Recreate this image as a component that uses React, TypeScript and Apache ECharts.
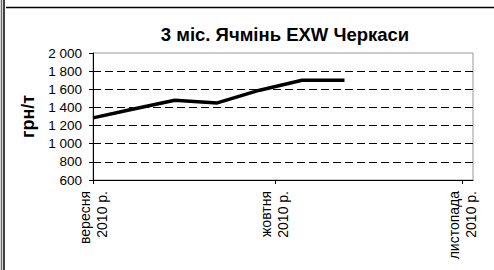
import React, { useEffect, useRef } from "react";
import * as echarts from "echarts";

const titleText = "3 міс. Ячмінь EXW Черкаси";
const yAxisName = "грн/т";
const pointDates = [
  "2010-09-01 00:00",
  "2010-09-07 12:00",
  "2010-09-14 12:00",
  "2010-09-21 12:00",
  "2010-09-28 12:00",
  "2010-10-05 12:00",
  "2010-10-12 12:00",
];
const pointValues = [1285, 1380, 1480, 1450, 1590, 1700, 1700];
const monthTickDates = ["2010-09-01 00:00", "2010-10-01 00:00", "2010-11-01 00:00"];
const monthTickLabels = ["вересня\n2010 р.", "жовтня\n2010 р.", "листопада\n2010 р."];
const xMinDate = "2010-09-01 00:00";
const xMaxDate = "2010-11-02 17:00";
const yMin = 600;
const yMax = 2000;
const yStep = 200;

function toTs(s: string): number {
  const [d, t] = s.split(" ");
  const [y, m, day] = d.split("-").map(Number);
  const [hh, mm] = t.split(":").map(Number);
  return Date.UTC(y, m - 1, day, hh, mm);
}

function fmtThousands(v: number): string {
  if (v >= 1000) {
    return `${Math.floor(v / 1000)} ${String(v % 1000).padStart(3, "0")}`;
  }
  return String(v);
}

const FONT = "'Liberation Sans', Arial, sans-serif";

export default function App() {
  const ref = useRef<HTMLDivElement>(null);
  useEffect(() => {
    if (!ref.current) return;
    const chart = echarts.init(ref.current, undefined, { renderer: "svg" });
    const tickTs = monthTickDates.map(toTs);
    const labelMap: Record<number, string> = {};
    tickTs.forEach((t, i) => (labelMap[t] = monthTickLabels[i]));
    chart.setOption({
      animation: false,
      backgroundColor: "#fff",
      title: {
        text: titleText,
        left: 280,
        top: 20,
        textAlign: "center",
        textStyle: { fontFamily: FONT, fontSize: 18.5, fontWeight: "bold", color: "#000" },
      },
      grid: {
        left: 93,
        right: 21,
        top: 53,
        bottom: 90,
        show: true,
        borderColor: "#999",
        borderWidth: 1,
        backgroundColor: "transparent",
      },
      xAxis: {
        type: "value",
        min: toTs(xMinDate),
        max: toTs(xMaxDate),
        axisLine: { show: true, lineStyle: { color: "#000", width: 1 } },
        axisTick: { show: true, customValues: tickTs, length: 4, lineStyle: { color: "#000" } },
        axisLabel: {
          customValues: tickTs,
          rotate: 90,
          margin: 11,
          fontFamily: FONT,
          fontSize: 14,
          lineHeight: 17,
          color: "#000",
          formatter: (v: number) => labelMap[v] ?? "",
        },
        splitLine: { show: false },
      },
      yAxis: {
        type: "value",
        min: yMin,
        max: yMax,
        interval: yStep,
        name: yAxisName,
        nameLocation: "middle",
        nameGap: 50,
        nameTextStyle: { fontFamily: FONT, fontSize: 18, fontWeight: "bold", color: "#000" },
        axisLine: { show: true, lineStyle: { color: "#000", width: 1 } },
        axisTick: { show: true, length: 4, lineStyle: { color: "#000" } },
        axisLabel: {
          margin: 11,
          fontFamily: FONT,
          fontSize: 13.5,
          color: "#000",
          formatter: (v: number) => fmtThousands(v),
        },
        splitLine: {
          show: true,
          showMinLine: false,
          showMaxLine: false,
          lineStyle: { color: "#000", width: 1, type: [8, 4] },
        },
      },
      series: [
        {
          type: "line",
          data: pointDates.map((d, i) => [toTs(d), pointValues[i]]),
          symbol: "none",
          lineStyle: { color: "#000", width: 3.5 },
          z: 5,
        },
      ],
      graphic: [
        { type: "line", shape: { x1: 1.5, y1: 0, x2: 1.5, y2: 270 }, style: { stroke: "#666", lineWidth: 1.5 } },
        { type: "line", shape: { x1: 4, y1: 0, x2: 4, y2: 270 }, style: { stroke: "#000", lineWidth: 1.5 } },
        { type: "line", shape: { x1: 6, y1: 7.5, x2: 494, y2: 7.5 }, style: { stroke: "#000", lineWidth: 1.5 } },
      ],
    });
    return () => chart.dispose();
  }, []);
  return (
    <div
      ref={ref}
      style={{ position: "fixed", left: 0, top: 0, width: 494, height: 270, background: "#fff" }}
    />
  );
}
